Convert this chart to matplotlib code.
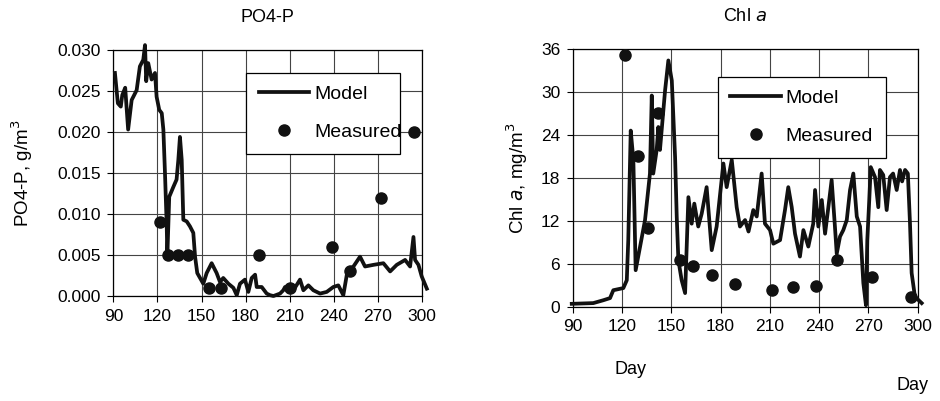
import matplotlib
matplotlib.use("Agg")
import matplotlib.pyplot as plt

plt.rcParams['font.family'] = ['Liberation Sans', 'DejaVu Sans']

# ---- PO4-P data ----
po4_model_day = [91, 93, 95, 96, 98, 100, 102.4, 105.8, 108, 110.3, 111.5, 112.3, 113.7, 116, 118.3,
                 119.4, 121.2, 122.9, 124, 125.1, 126.3, 126.7, 128, 130.8, 133, 134.2, 135.3, 136.5,
                 137.6, 139.9, 142.1, 144.4, 145.6, 147.1, 151.2, 153.5, 156.9, 160.3, 162.6, 164.8,
                 168.3, 171.7, 174, 176.2, 179.6, 181.9, 184.2, 186.5, 187.6, 191, 194.4, 196.7, 199,
                 203.5, 205.7, 206.9, 212.6, 217.1, 219.4, 222.8, 226.2, 230.8, 235.3, 239.8, 243.2,
                 246.6, 249, 253.5, 258, 261.4, 267.1, 273.9, 278.5, 283, 288.7, 292.1, 294.4, 295.5,
                 297.8, 300, 303.5]
po4_model_val = [0.0272, 0.0235, 0.0231, 0.0245, 0.0254, 0.0203, 0.0239, 0.0251, 0.0280, 0.0288,
                 0.0306, 0.0262, 0.0284, 0.0264, 0.0272, 0.0243, 0.0227, 0.0223, 0.0203, 0.0150,
                 0.0085, 0.0048, 0.0121, 0.0133, 0.0142, 0.0166, 0.0194, 0.0166, 0.0093, 0.0091,
                 0.0085, 0.0077, 0.0048, 0.0028, 0.0015, 0.0028, 0.0040, 0.0028, 0.0017, 0.0022,
                 0.0015, 0.0010, 0.0001, 0.0015, 0.0020, 0.0005, 0.0022, 0.0026, 0.0011, 0.0011,
                 0.0003, 0.0001, 0.0000, 0.0003, 0.0007, 0.0011, 0.0007, 0.0020, 0.0007, 0.0013,
                 0.0007, 0.0003, 0.0005, 0.0011, 0.0013, 0.0001, 0.0026, 0.0036, 0.0048, 0.0036,
                 0.0038, 0.0040, 0.0030, 0.0038, 0.0044, 0.0036, 0.0072, 0.0044, 0.0038, 0.0024,
                 0.0009]
po4_meas_day = [122, 127, 134, 141, 155, 163, 189, 210, 239, 251, 272, 295]
po4_meas_val = [0.009, 0.005, 0.005, 0.005, 0.001, 0.001, 0.005, 0.001, 0.006, 0.003, 0.012, 0.020]

# ---- Chl a data ----
chl_model_day = [89.4, 102.5, 108.6, 112.7, 114.7, 120.8, 122.9, 123.8, 125.3, 126.9, 128.3, 131,
                 134, 137, 138.1, 139, 141.1, 142.1, 143.1, 146.2, 148.2, 150.3, 152.3, 153.3,
                 154.3, 156.3, 158.4, 160.4, 162.4, 164, 166.4, 168.5, 171.5, 174.6, 177.6, 181.7,
                 183.7, 186.8, 189.8, 191.8, 194.9, 197, 199.9, 202, 205, 207, 210.1, 212.1, 216.2,
                 219.2, 221.2, 223.3, 225.3, 228.3, 230.4, 233.4, 236.4, 237.5, 239.5, 241.6, 243.6,
                 245.6, 247.6, 249.6, 250.7, 252.7, 254.7, 256.8, 258.8, 260.8, 262.9, 264.9, 266.9,
                 268.5, 269.3, 270.5, 271.4, 274, 276, 277, 279, 281.1, 283.1, 285, 287.2, 289.2,
                 290.5, 292.3, 294, 295.3, 296.3, 298.3, 302.4]
chl_model_val = [0.4, 0.5, 0.9, 1.2, 2.3, 2.6, 3.7, 9.3, 24.6, 20.5, 5.1, 8.4,
                 12.1, 18.6, 29.5, 18.6, 21.9, 25.1, 21.9, 30.2, 34.4, 31.6, 20.9, 12.6,
                 6.5, 3.7, 1.9, 15.3, 11.6, 14.4, 11.2, 13.0, 16.7, 7.9, 11.2, 20.0,
                 16.7, 20.5, 13.9, 11.2, 12.1, 10.5, 13.5, 12.6, 18.6, 11.6, 10.7, 8.8, 9.3,
                 13.5, 16.7, 13.9, 10.2, 7.0, 10.7, 8.4, 11.6, 16.3, 11.2, 14.9, 10.2,
                 13.9, 17.7, 11.2, 7.4, 9.8, 10.7, 12.1, 16.3, 18.6, 12.6, 11.2, 3.3,
                 0.2, 9.3, 14.9, 19.5, 18.1, 13.9, 19.1, 18.4, 13.5, 18.1, 18.6, 16.3, 19.1,
                 17.5, 19.1, 18.6, 11.6, 4.7, 1.4, 0.5]
chl_meas_day = [122, 130, 136, 142, 155, 163, 175, 189, 211, 224, 238, 251, 272, 296]
chl_meas_val = [35.2, 21.0, 11.0, 27.0, 6.5, 5.7, 4.4, 3.1, 2.4, 2.7, 2.9, 6.5, 4.2, 1.4]

x_ticks = [90, 120, 150, 180, 210, 240, 270, 300]
po4_yticks = [0.000, 0.005, 0.010, 0.015, 0.020, 0.025, 0.030]
chl_yticks = [0, 6, 12, 18, 24, 30, 36]

fig = plt.figure(figsize=(9.4, 4.01), dpi=100)
ax1 = fig.add_axes([0.1207, 0.2618, 0.3279, 0.6135])
ax2 = fig.add_axes([0.6093, 0.2352, 0.3670, 0.6426])

FS = 12.5

def style(ax):
    ax.set_xlim(90, 300)
    ax.set_xticks(x_ticks)
    ax.grid(True, color='#444444', lw=0.8)
    ax.set_axisbelow(True)
    for s in ax.spines.values():
        s.set_color('black')
        s.set_linewidth(0.9)
    ax.tick_params(direction='out', length=4, width=0.8, labelsize=FS, pad=5)

def add_legend(ax, x0, ytop, w):
    leg = ax.legend(loc='upper left', bbox_to_anchor=(x0, ytop, w, 0.0), mode='expand',
                    borderaxespad=0, fancybox=False, framealpha=1, edgecolor='black',
                    fontsize=14, handlelength=2.6, labelspacing=1.05, borderpad=0.65,
                    handletextpad=0.25)
    leg.get_frame().set_linewidth(0.9)
    leg.set_zorder(5)
    return leg

# left panel
style(ax1)
ax1.set_ylim(0, 0.030)
ax1.set_yticks(po4_yticks)
ax1.set_yticklabels([f"{v:.3f}" for v in po4_yticks])
ax1.plot(po4_model_day, po4_model_val, color='#111111', lw=2.7, label='Model', clip_on=False, zorder=3)
ax1.plot(po4_meas_day, po4_meas_val, 'o', color='#111111', ms=8, label='Measured', clip_on=False, zorder=4)
ax1.set_title('PO4-P', fontsize=13, pad=20)
ax1.set_ylabel('PO4-P, g/m$^3$', fontsize=13.5, labelpad=16)
add_legend(ax1, 0.43, 0.907, 0.50)
fig.text(630 / 940, 1 - 370 / 401, 'Day', fontsize=13, ha='center', va='center')

# right panel
style(ax2)
ax2.set_ylim(0, 36)
ax2.set_yticks(chl_yticks)
ax2.plot(chl_model_day, chl_model_val, color='#111111', lw=2.7, label='Model', clip_on=False, zorder=3)
ax2.plot(chl_meas_day, chl_meas_val, 'o', color='#111111', ms=8, label='Measured', clip_on=False, zorder=4)
ax2.set_title('Chl $\\mathit{a}$', fontsize=13, pad=20)
ax2.set_ylabel('Chl $\\mathit{a}$, mg/m$^3$', fontsize=13.5, labelpad=8)
add_legend(ax2, 0.42, 0.8925, 0.488)
fig.text(912 / 940, 1 - 386 / 401, 'Day', fontsize=13, ha='center', va='center')

fig.savefig('out.png', dpi=100)
